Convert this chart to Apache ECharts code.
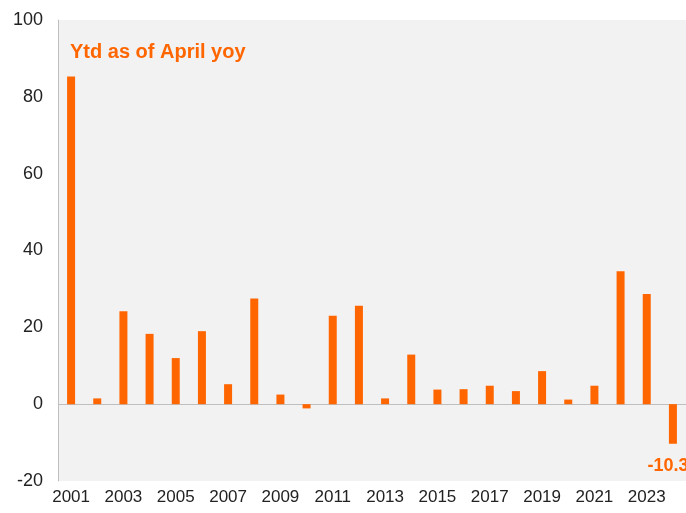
<!DOCTYPE html>
<html><head><meta charset="utf-8">
<script src="https://cdn.jsdelivr.net/npm/echarts@6/dist/echarts.min.js"></script>
<style>html,body{margin:0;padding:0;background:#fff}#c{width:686px;height:513px}</style>
</head><body><div id="c"></div>
<script>
var years = ['2001','2002','2003','2004','2005','2006','2007','2008','2009','2010','2011','2012','2013','2014','2015','2016','2017','2018','2019','2020','2021','2022','2023','2024'];
var values = [85.3, 1.5, 24.2, 18.3, 12.0, 19.0, 5.2, 27.5, 2.5, -1.1, 23.0, 25.6, 1.5, 12.9, 3.8, 3.9, 4.8, 3.4, 8.6, 1.2, 4.8, 34.6, 28.7, -10.3];
var yTicks = [-20, 0, 20, 40, 60, 80, 100];
var titleText = 'Ytd as of April yoy';
var labeledIndex = 23;

var orange = '#ff6600';
var chart = echarts.init(document.getElementById('c'));
var data = values.map(function(v, i){
  if (i === labeledIndex) {
    return {value: v, label: {show: true, position: 'bottom', distance: 13, offset: [-5, 0], color: orange, fontWeight: 'bold', fontSize: 18, fontFamily: 'Liberation Sans', formatter: function(p){return p.value.toFixed(1);}}};
  }
  return v;
});
chart.setOption({
  animation: false,
  grid: {left: 58, right: 0, top: 20, bottom: 32, show: true, backgroundColor: '#f2f2f2', borderWidth: 0},
  title: {text: titleText, left: 65, top: 37, textStyle: {color: orange, fontSize: 20, fontWeight: 'bold', fontFamily: 'Liberation Sans'}},
  xAxis: {
    type: 'category', data: years,
    axisLine: {show: false, onZero: false}, axisTick: {show: false},
    axisLabel: {interval: 1, color: '#222', fontSize: 17, fontFamily: 'Liberation Sans', margin: 8}
  },
  yAxis: {
    type: 'value', min: yTicks[0], max: yTicks[yTicks.length-1], interval: 20,
    axisLine: {show: true, lineStyle: {color: '#bfbfbf', width: 1}}, axisTick: {show: false},
    splitLine: {show: false},
    axisLabel: {color: '#222', fontSize: 18, fontFamily: 'Liberation Sans', margin: 15}
  },
  series: [{
    type: 'bar', data: data, barWidth: 8, itemStyle: {color: orange},
    markLine: {silent: true, symbol: 'none', label: {show: false}, lineStyle: {color: '#bfbfbf', type: 'solid', width: 1}, data: [{yAxis: 0}], z: 1}
  }]
});
</script></body></html>
